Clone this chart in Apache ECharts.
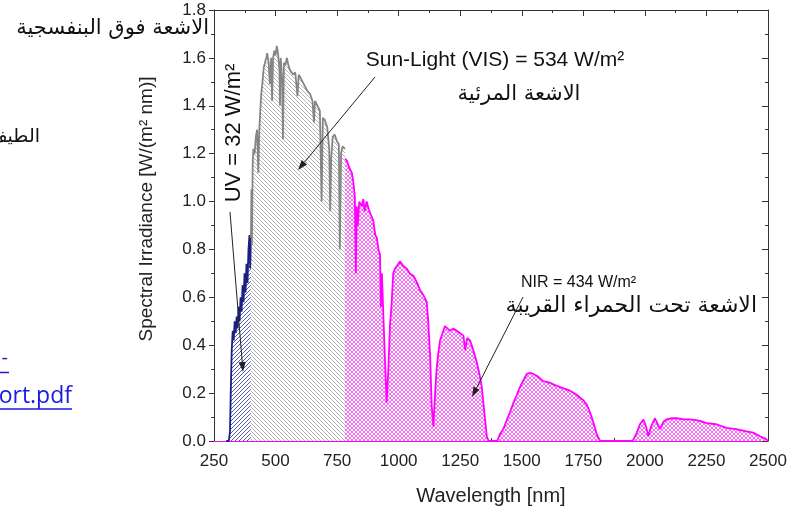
<!DOCTYPE html>
<html>
<head>
<meta charset="utf-8">
<script src="https://cdn.jsdelivr.net/npm/echarts@6/dist/echarts.min.js"></script>
<style>html,body{margin:0;padding:0;background:#fff;}#c{width:797px;height:512px;}</style>
</head>
<body>
<div id="c"></div>
<script>
// ---- data ----
const xTickValues = [250, 500, 750, 1000, 1250, 1500, 1750, 2000, 2250, 2500];
const yTickValues = [0.0, 0.2, 0.4, 0.6, 0.8, 1.0, 1.2, 1.4, 1.6, 1.8];

const uvNm  = [300, 310, 315, 318, 322, 326, 330, 334, 338, 342, 346, 350, 354, 358, 362, 366, 370, 374, 378, 382, 386, 390, 394, 397, 400];
const uvVal = [0, 0, 0.04, 0.20, 0.38, 0.46, 0.42, 0.50, 0.45, 0.52, 0.47, 0.56, 0.50, 0.60, 0.54, 0.65, 0.58, 0.70, 0.62, 0.74, 0.66, 0.80, 0.86, 0.72, 0.85];

const visNm  = [400, 402, 404, 407, 410, 415, 420, 425, 430, 434, 438, 442, 447, 452, 457, 462, 466, 472, 477, 482, 486, 490, 495, 500, 505, 510, 516, 518, 521, 527, 530, 534, 540, 546, 552, 558, 565, 572, 580, 589, 594, 600, 610, 620, 630, 640, 650, 656, 660, 670, 680, 687, 692, 700, 710, 718, 722, 726, 732, 740, 750, 757, 761, 766, 772, 782];
const visVal = [0.85, 1.05, 0.82, 1.15, 1.22, 1.20, 1.27, 1.30, 1.12, 1.30, 1.38, 1.45, 1.50, 1.56, 1.58, 1.60, 1.62, 1.58, 1.49, 1.60, 1.42, 1.60, 1.63, 1.61, 1.65, 1.62, 1.55, 1.40, 1.60, 1.50, 1.26, 1.58, 1.57, 1.60, 1.57, 1.55, 1.55, 1.53, 1.54, 1.44, 1.53, 1.52, 1.50, 1.48, 1.46, 1.45, 1.42, 1.33, 1.42, 1.40, 1.38, 1.00, 1.35, 1.34, 1.31, 1.22, 0.96, 1.18, 1.27, 1.28, 1.25, 1.24, 0.80, 1.20, 1.23, 1.22];

const nirNm  = [782, 790, 800, 810, 816, 822, 826, 830, 834, 840, 850, 856, 862, 870, 878, 885, 897, 905, 911, 918, 924, 928, 932, 938, 944, 951, 958, 965, 970, 978, 985, 992, 1005, 1020, 1033, 1045, 1060, 1075, 1087, 1100, 1114, 1120, 1128, 1134, 1141, 1148, 1154, 1160, 1168, 1178, 1188, 1198, 1208, 1222, 1236, 1250, 1263, 1270, 1278, 1290, 1300, 1317, 1328, 1337, 1348, 1358, 1365, 1400, 1412, 1425, 1440, 1452, 1466, 1479, 1490, 1500, 1510, 1520, 1533, 1547, 1565, 1587, 1610, 1642, 1670, 1696, 1720, 1750, 1765, 1777, 1790, 1804, 1818, 1950, 1965, 1980, 1994, 2005, 2014, 2025, 2041, 2052, 2061, 2075, 2088, 2110, 2129, 2160, 2183, 2220, 2251, 2290, 2332, 2370, 2413, 2440, 2467, 2490, 2500];
const nirVal = [1.18, 1.17, 1.14, 1.12, 1.08, 1.02, 0.70, 0.98, 0.90, 1.00, 0.98, 1.01, 0.96, 1.00, 0.97, 0.95, 0.92, 0.86, 0.85, 0.80, 0.78, 0.56, 0.70, 0.52, 0.35, 0.16, 0.30, 0.49, 0.55, 0.70, 0.72, 0.73, 0.75, 0.73, 0.72, 0.70, 0.69, 0.66, 0.63, 0.61, 0.58, 0.50, 0.35, 0.15, 0.06, 0.20, 0.30, 0.36, 0.42, 0.45, 0.48, 0.47, 0.46, 0.47, 0.46, 0.45, 0.44, 0.38, 0.43, 0.42, 0.39, 0.33, 0.28, 0.23, 0.12, 0.02, 0, 0, 0.03, 0.05, 0.09, 0.12, 0.16, 0.19, 0.22, 0.24, 0.26, 0.28, 0.285, 0.28, 0.27, 0.25, 0.245, 0.23, 0.22, 0.21, 0.195, 0.17, 0.15, 0.12, 0.08, 0.03, 0, 0, 0.03, 0.07, 0.09, 0.06, 0.02, 0.06, 0.095, 0.07, 0.05, 0.08, 0.09, 0.095, 0.095, 0.09, 0.09, 0.085, 0.075, 0.07, 0.055, 0.05, 0.04, 0.035, 0.02, 0.01, 0];

// ---- patterns ----
function hatch(color, dir, s, bg) {
  const c = document.createElement('canvas');
  c.width = s; c.height = s;
  const ctx = c.getContext('2d');
  ctx.fillStyle = bg; ctx.fillRect(0, 0, s, s);
  ctx.strokeStyle = color; ctx.lineWidth = 1;
  ctx.beginPath();
  const dirs = dir === 'x' ? ['\\', '/'] : [dir];
  dirs.forEach(d => {
    if (d === '\\') {
      ctx.moveTo(-1, -1); ctx.lineTo(s + 1, s + 1);
      ctx.moveTo(-1, s - 1); ctx.lineTo(1, s + 1);
      ctx.moveTo(s - 1, -1); ctx.lineTo(s + 1, 1);
    } else {
      ctx.moveTo(-1, s + 1); ctx.lineTo(s + 1, -1);
      ctx.moveTo(-1, 1); ctx.lineTo(1, -1);
      ctx.moveTo(s - 1, s + 1); ctx.lineTo(s + 1, s - 1);
    }
  });
  ctx.stroke();
  return { image: c, repeat: 'repeat' };
}

function pairs(xs, ys) { return xs.map((x, i) => [x, ys[i]]); }

function arrow(x1, y1, x2, y2) {
  const a = Math.atan2(y2 - y1, x2 - x1), L = 10, W = 3.5;
  const bx = x2 - L * Math.cos(a), by = y2 - L * Math.sin(a);
  const px = -Math.sin(a) * W, py = Math.cos(a) * W;
  return [
    { type: 'line', shape: { x1: x1, y1: y1, x2: bx, y2: by }, style: { stroke: '#222', lineWidth: 1 }, z: 100 },
    { type: 'polygon', shape: { points: [[x2, y2], [bx + px, by + py], [bx - px, by - py]] }, style: { fill: '#222' }, z: 100 }
  ];
}

const chart = echarts.init(document.getElementById('c'), null, { renderer: 'canvas' });
const F = 'Liberation Sans, Arial, sans-serif';
const axisCommon = {
  type: 'value', min: xTickValues[0], max: xTickValues[xTickValues.length - 1], interval: 250,
  splitLine: { show: false }
};

chart.setOption({
  animation: false,
  backgroundColor: '#fff',
  grid: { left: 214, right: 29, top: 10, bottom: 71, containLabel: false },
  xAxis: [
    Object.assign({}, axisCommon, {
      position: 'bottom',
      name: 'Wavelength [nm]', nameLocation: 'middle', nameGap: 45,
      nameTextStyle: { fontFamily: F, fontSize: 20, color: '#222' },
      axisLine: { show: true, onZero: false, lineStyle: { color: '#ff00ff', width: 1.2 } },
      axisTick: { show: true, inside: true, length: 6, lineStyle: { color: '#333' } },
      minorTick: { show: true, splitNumber: 2, length: 3, lineStyle: { color: '#333' } },
      axisLabel: { fontFamily: F, fontSize: 17, color: '#222', margin: 12, formatter: v => String(v) }
    }),
    Object.assign({}, axisCommon, {
      position: 'top',
      axisLine: { show: true, onZero: false, lineStyle: { color: '#333', width: 1 } },
      axisTick: { show: true, inside: true, length: 6, lineStyle: { color: '#333' } },
      minorTick: { show: true, splitNumber: 2, length: 3, lineStyle: { color: '#333' } },
      axisLabel: { show: false }
    })
  ],
  yAxis: [
    {
      type: 'value', min: yTickValues[0], max: yTickValues[yTickValues.length - 1], interval: 0.2, position: 'left',
      splitLine: { show: false },
      axisLine: { show: true, onZero: false, lineStyle: { color: '#333', width: 1 } },
      axisTick: { show: true, inside: false, length: 5, lineStyle: { color: '#333' } },
      minorTick: { show: true, splitNumber: 2, length: 3, lineStyle: { color: '#333' } },
      axisLabel: { fontFamily: F, fontSize: 17, color: '#222', margin: 8, formatter: v => v.toFixed(1) }
    },
    {
      type: 'value', min: 0, max: 1.8, interval: 0.2, position: 'right',
      splitLine: { show: false },
      axisLine: { show: true, onZero: false, lineStyle: { color: '#333', width: 1 } },
      axisTick: { show: true, inside: true, length: 6, lineStyle: { color: '#333' } },
      minorTick: { show: true, splitNumber: 2, length: 3, lineStyle: { color: '#333' } },
      axisLabel: { show: false }
    }
  ],
  series: [
    {
      name: 'UV', type: 'line', data: pairs(uvNm, uvVal), showSymbol: false, symbol: 'none',
      lineStyle: { color: '#1a1f80', width: 1.8 },
      areaStyle: { color: hatch('#5058b0', '/', 4, '#ffffff'), opacity: 1 }, z: 3
    },
    {
      name: 'VIS', type: 'line', data: pairs(visNm, visVal), showSymbol: false, symbol: 'none',
      lineStyle: { color: '#858585', width: 1.8 },
      areaStyle: { color: hatch('#b4b4b4', '\\', 4, '#ffffff'), opacity: 1 }, z: 3
    },
    {
      name: 'NIR', type: 'line', data: pairs(nirNm, nirVal), showSymbol: false, symbol: 'none',
      lineStyle: { color: '#ff00ff', width: 1.8 },
      areaStyle: { color: hatch('#f36cf3', 'x', 4, '#ffffff'), opacity: 1 }, z: 3
    }
  ],
  graphic: [
    { type: 'text', x: 209, y: 29, z: 100, style: { text: 'الاشعة فوق البنفسجية', align: 'right', verticalAlign: 'middle', font: '21px "DejaVu Sans"', fill: '#111' } },
    { type: 'text', x: 40, y: 137, z: 100, style: { text: 'الطيف', align: 'right', verticalAlign: 'middle', font: '19px "DejaVu Sans"', fill: '#111' } },
    { type: 'text', x: 8, y: 358, z: 100, style: { text: '-', align: 'right', verticalAlign: 'middle', font: '20px "Open Sans"', fill: '#1a1ae0' } },
    { type: 'line', shape: { x1: 0, y1: 372.5, x2: 9, y2: 372.5 }, style: { stroke: '#1a1ae0', lineWidth: 1.5 } },
    { type: 'text', x: 72, y: 396, z: 100, style: { text: 'port.pdf', align: 'right', verticalAlign: 'middle', font: '23px "Open Sans"', fill: '#1a1ae0' } },
    { type: 'line', shape: { x1: 0, y1: 409, x2: 72, y2: 409 }, style: { stroke: '#1a1ae0', lineWidth: 1.5 } },
    { type: 'text', x: 147, y: 209, rotation: Math.PI / 2, z: 100, style: { text: 'Spectral Irradiance [W/(m² nm)]', align: 'center', verticalAlign: 'middle', font: '19px "Liberation Sans"', fill: '#222' } },
    { type: 'text', x: 495, y: 60, z: 100, style: { text: 'Sun-Light (VIS) = 534 W/m²', align: 'center', verticalAlign: 'middle', font: '21px "Liberation Sans"', fill: '#111' } },
    { type: 'text', x: 519, y: 95, z: 100, style: { text: 'الاشعة المرئية', align: 'center', verticalAlign: 'middle', font: '21px "DejaVu Sans"', fill: '#111' } },
    { type: 'text', x: 234, y: 133, rotation: Math.PI / 2, z: 100, style: { text: 'UV = 32 W/m²', align: 'center', verticalAlign: 'middle', font: '22px "Liberation Sans"', fill: '#111' } },
    { type: 'text', x: 521, y: 283, z: 100, style: { text: 'NIR = 434 W/m²', align: 'left', verticalAlign: 'middle', font: '16px "Liberation Sans"', fill: '#111' } },
    { type: 'text', x: 757, y: 306, z: 100, style: { text: 'الاشعة تحت الحمراء القريبة', align: 'right', verticalAlign: 'middle', font: '22px "DejaVu Sans"', fill: '#111' } }
  ].concat(arrow(375, 77, 298, 170), arrow(230, 212, 243, 372), arrow(523, 297, 472, 397))
});
</script>
</body>
</html>
